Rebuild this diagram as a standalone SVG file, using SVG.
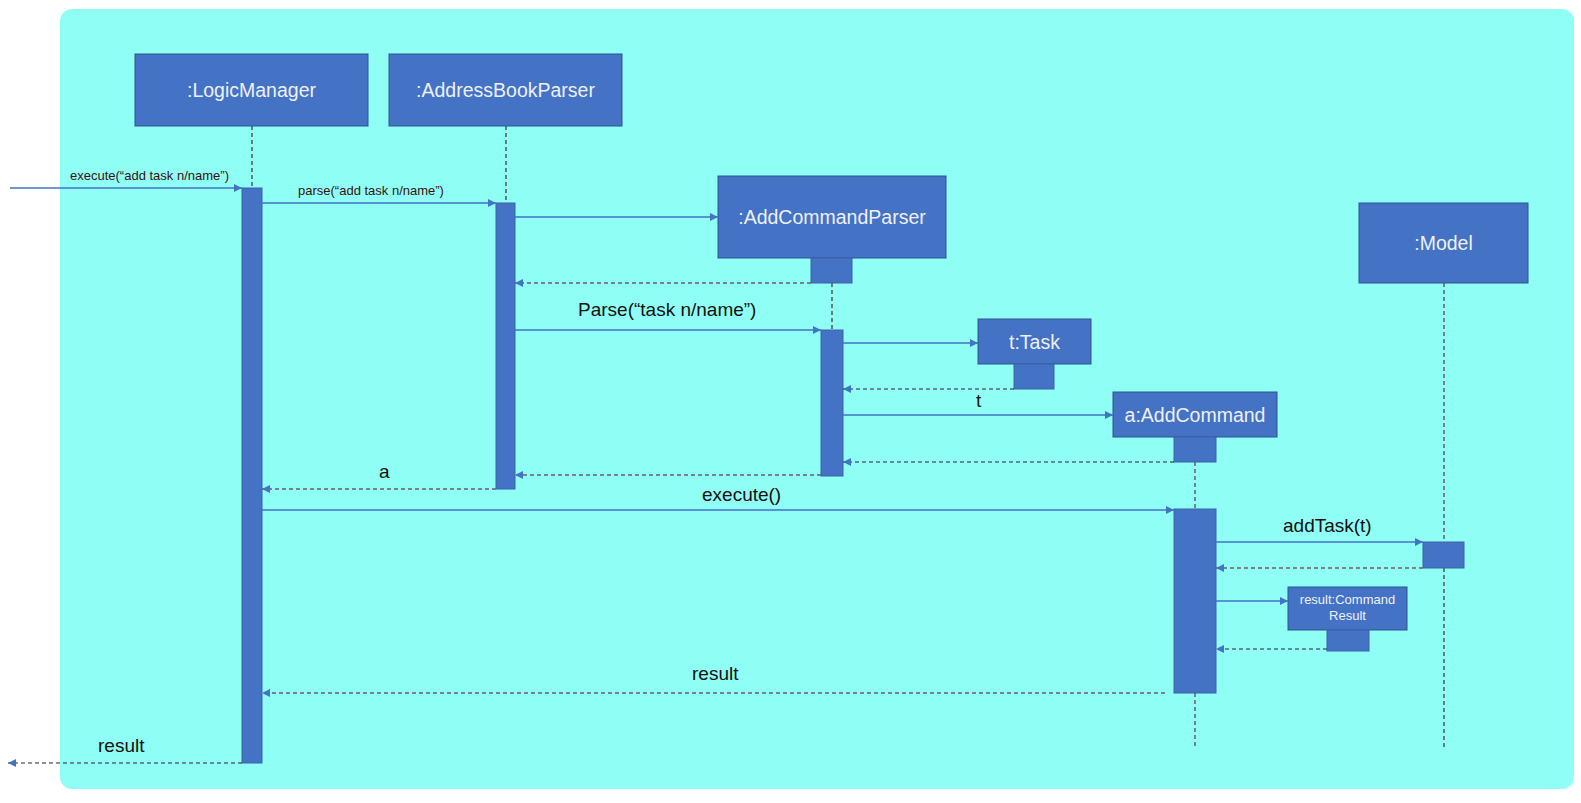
<svg xmlns="http://www.w3.org/2000/svg" width="1581" height="803" viewBox="0 0 1581 803">
  <defs>
    <marker id="head" viewBox="0 0 10 10" refX="10" refY="5" markerWidth="9" markerHeight="8" markerUnits="userSpaceOnUse" orient="auto">
      <path d="M0,0 L10,5 L0,10 z" fill="#4472c4"/>
    </marker>
    <style>
      .box { fill: #4472c4; stroke: #2f528f; stroke-width: 1; }
      .bar { fill: #4472c4; stroke: #3a62a8; stroke-width: 1; }
      .name { font-family: "Liberation Sans", Arial, sans-serif; font-size: 19.5px; fill: #eef0ff; text-anchor: middle; dominant-baseline: central; }
      .small { font-family: "Liberation Sans", Arial, sans-serif; font-size: 13px; fill: #eef0ff; text-anchor: middle; }
      .life { stroke: #4a2a30; stroke-width: 1.2; stroke-dasharray: 4 3; fill: none; }
      .life2 { stroke: #6e5a66; stroke-width: 1.5; stroke-dasharray: 4 3; fill: none; }
      .call { stroke: #4472c4; stroke-width: 1.3; fill: none; marker-end: url(#head); }
      .ret { stroke: #6e5a66; stroke-width: 1.3; stroke-dasharray: 4 3; fill: none; marker-end: url(#head); }
      .ret2 { stroke: #2a2030; stroke-width: 1.1; stroke-dasharray: 4 3; fill: none; marker-end: url(#head); }
      .lbl { font-family: "Liberation Sans", Arial, sans-serif; font-size: 19px; fill: #111; }
      .lblsm { font-family: "Liberation Sans", Arial, sans-serif; font-size: 13px; fill: #3b1010; }
    </style>
  </defs>

  <!-- frame -->
  <rect x="60" y="9" width="1514" height="780" rx="12" fill="#8ffff5"/>

  <!-- lifelines -->
  <g id="lifelines">
    <line class="life" x1="252" y1="126" x2="252" y2="188"/>
    <line class="life" x1="506" y1="126" x2="506" y2="203"/>
    <line class="life" x1="832" y1="283" x2="832" y2="330"/>
    <line class="life2" x1="1195" y1="462" x2="1195" y2="509"/>
    <line class="life2" x1="1195" y1="693" x2="1195" y2="746"/>
    <line class="life2" x1="1444" y1="283" x2="1444" y2="542"/>
    <line class="life" x1="1444" y1="568" x2="1444" y2="747"/>
  </g>

  <g id="logicManager">
    <rect class="box" x="135" y="54" width="233" height="72"/>
    <text class="name" x="251.5" y="90">:LogicManager</text>
    <rect class="bar" x="242" y="188" width="20" height="575"/>
  </g>

  <g id="addressBookParser">
    <rect class="box" x="389" y="54" width="233" height="72"/>
    <text class="name" x="505.5" y="90">:AddressBookParser</text>
    <rect class="bar" x="496" y="203" width="19" height="286"/>
  </g>

  <g id="addCommandParser">
    <rect class="box" x="718" y="176" width="228" height="82"/>
    <text class="name" x="832" y="217">:AddCommandParser</text>
    <rect class="bar" x="811" y="258" width="41" height="25"/>
    <rect class="bar" x="821" y="330" width="22" height="146"/>
  </g>

  <g id="task">
    <rect class="box" x="978" y="319" width="113" height="45"/>
    <text class="name" x="1034.5" y="341.5">t:Task</text>
    <rect class="bar" x="1014" y="364" width="40" height="25"/>
  </g>

  <g id="addCommand">
    <rect class="box" x="1113" y="392" width="164" height="45"/>
    <text class="name" x="1195" y="414.5">a:AddCommand</text>
    <rect class="bar" x="1174" y="437" width="42" height="25"/>
    <rect class="bar" x="1174" y="509" width="42" height="184"/>
  </g>

  <g id="model">
    <rect class="box" x="1359" y="203" width="169" height="80"/>
    <text class="name" x="1443.5" y="243">:Model</text>
    <rect class="bar" x="1423" y="542" width="41" height="26"/>
  </g>

  <g id="commandResult">
    <rect class="box" x="1288" y="587" width="119" height="43"/>
    <text class="small" x="1347.5" y="604">result:Command</text>
    <text class="small" x="1347.5" y="620">Result</text>
    <rect class="bar" x="1327" y="630" width="42" height="21"/>
  </g>

  <!-- messages -->
  <g id="connectors">
    <line class="call" x1="10" y1="188" x2="242" y2="188"/>
    <line class="call" x1="262" y1="203" x2="496" y2="203"/>
    <line class="call" x1="515" y1="217" x2="718" y2="217"/>
    <line class="ret" x1="811" y1="283" x2="515" y2="283"/>
    <line class="call" x1="515" y1="330" x2="821" y2="330"/>
    <line class="call" x1="843" y1="343" x2="978" y2="343"/>
    <line class="ret2" x1="1014" y1="389" x2="843" y2="389"/>
    <line class="call" x1="843" y1="415" x2="1113" y2="415"/>
    <line class="ret2" x1="1174" y1="462" x2="843" y2="462"/>
    <line class="ret" x1="821" y1="475" x2="515" y2="475"/>
    <line class="ret" x1="496" y1="489" x2="262" y2="489"/>
    <line class="call" x1="262" y1="510" x2="1174" y2="510"/>
    <line class="call" x1="1216" y1="542" x2="1423" y2="542"/>
    <line class="ret" x1="1423" y1="568" x2="1216" y2="568"/>
    <line class="call" x1="1216" y1="601" x2="1288" y2="601"/>
    <line class="ret2" x1="1327" y1="649" x2="1216" y2="649"/>
    <line class="ret" x1="1165" y1="693" x2="262" y2="693"/>
    <line class="ret2" x1="242" y1="763" x2="8" y2="763"/>
  </g>

  <!-- message labels -->
  <g id="labels">
    <text class="lblsm" x="70" y="180">execute(“add task n/name”)</text>
    <text class="lblsm" x="298" y="195">parse(“add task n/name”)</text>
    <text class="lbl" x="578" y="316">Parse(“task n/name”)</text>
    <text class="lbl" x="976" y="407">t</text>
    <text class="lbl" x="379" y="478">a</text>
    <text class="lbl" x="702" y="501">execute()</text>
    <text class="lbl" x="1283" y="532">addTask(t)</text>
    <text class="lbl" x="692" y="680">result</text>
    <text class="lbl" x="98" y="752">result</text>
  </g>
</svg>
